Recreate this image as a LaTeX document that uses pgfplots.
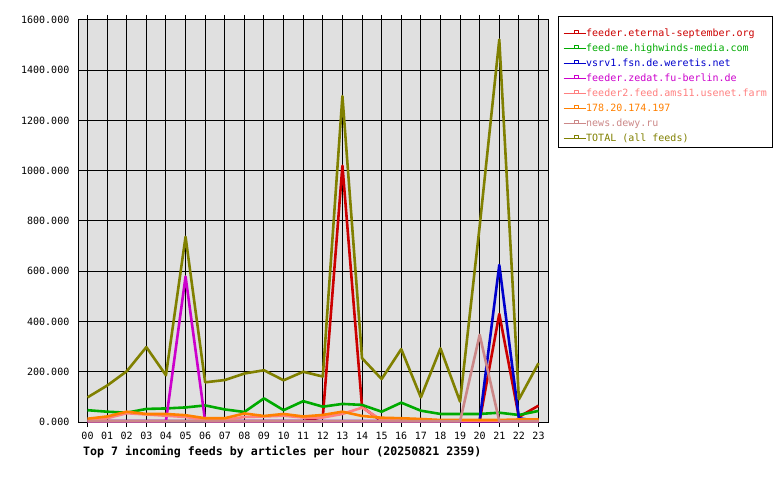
\documentclass[border=0pt]{standalone}
\usepackage{fontspec}
\setmainfont{DejaVu Sans Mono}
\usepackage{pgfplots}
\usepackage{pgfplotstable}
\pgfplotsset{compat=1.18}
\definecolor{cRed}{HTML}{CC0000}
\definecolor{cGreen}{HTML}{00AA00}
\definecolor{cBlue}{HTML}{0000CC}
\definecolor{cMag}{HTML}{CC00CC}
\definecolor{cPink}{HTML}{FF8080}
\definecolor{cOrange}{HTML}{FF8000}
\definecolor{cRosy}{HTML}{CC8888}
\definecolor{cOlive}{HTML}{808000}
\definecolor{bgGray}{HTML}{E0E0E0}
\pgfplotstableread{
h red green blue mag pink orange rosy total
0 3 47 3 3 5 13 3 98
1 3 41 3 3 15 22 3 145
2 3 37 3 3 35 41 3 202
3 3 52 3 3 30 32 3 298
4 3 54 3 3 25 32 3 186
5 3 58 3 579 20 27 3 737
6 3 66 3 3 8 15 3 158
7 3 50 3 3 8 15 3 167
8 3 40 3 3 20 34 3 193
9 3 94 3 3 22 24 3 206
10 3 47 3 3 25 32 3 166
11 3 83 3 3 18 22 3 200
12 20 61 3 3 18 28 3 181
13 1020 72 3 3 32 41 3 1297
14 60 68 3 3 57 24 3 254
15 3 41 3 3 8 17 3 171
16 3 77 3 3 5 15 3 290
17 3 45 3 3 5 12 3 98
18 3 32 3 3 5 8 3 293
19 3 32 3 3 5 8 3 81
20 5 32 5 3 5 8 347 780
21 430 37 625 3 5 8 3 1522
22 20 28 15 3 5 10 3 90
23 65 44 3 3 5 10 3 234
}\data
\begin{document}
\begin{tikzpicture}[x=1pt,y=1pt]
\path[fill=white] (0,0) rectangle (780,480);
\begin{axis}[
  at={(78.5pt,58pt)}, anchor=south west,
  scale only axis, width=470pt, height=402pt,
  xmin=-0.46, xmax=23.51, ymin=0, ymax=1600,
  axis background/.style={fill=bgGray},
  axis line style={black, line width=1pt},
  grid=major, major grid style={black, line width=1pt},
  tick align=outside, major tick length=5pt,
  tick style={black, line width=1pt},
  y tick style={draw=none},
  xtick={0,...,23},
  xticklabels={00,01,02,03,04,05,06,07,08,09,10,11,12,13,14,15,16,17,18,19,20,21,22,23},
  ytick={0,200,...,1600},
  yticklabels={0.000,200.000,400.000,600.000,800.000,1000.000,1200.000,1400.000,1600.000},
  ticklabel style={font=\fontsize{10}{12}\selectfont},
  xticklabel style={inner sep=0pt, yshift=-5pt},
  yticklabel style={inner sep=0pt, xshift=-4pt},
  every axis plot/.append style={line width=2.6pt, mark=none, line join=round},
  legend style={at={(1,1)}, anchor=north west, xshift=9.5pt, yshift=4pt,
    fill=white, inner xsep=5pt, inner ysep=5.5pt,
    font=\fontsize{10}{12}\selectfont, row sep=0pt,
    nodes={inner sep=0pt, text height=15pt, text depth=0pt}},
  legend cell align=left,
  legend image code/.code={\draw[#1, line width=1pt] (0pt,-4.4pt) -- (22pt,-4.4pt);
     \draw[#1, line width=0.8pt] (11pt,-4.4pt) rectangle (15pt,-1.6pt);},
]
\addplot[cRed] table[x=h, y=red] {\data};
\addlegendentry{\textcolor{cRed}{feeder.eternal-september.org}}
\addplot[cGreen] table[x=h, y=green] {\data};
\addlegendentry{\textcolor{cGreen}{feed-me.highwinds-media.com}}
\addplot[cBlue] table[x=h, y=blue] {\data};
\addlegendentry{\textcolor{cBlue}{vsrv1.fsn.de.weretis.net}}
\addplot[cMag] table[x=h, y=mag] {\data};
\addlegendentry{\textcolor{cMag}{feeder.zedat.fu-berlin.de}}
\addplot[cPink] table[x=h, y=pink] {\data};
\addlegendentry{\textcolor{cPink}{feeder2.feed.ams11.usenet.farm}}
\addplot[cOrange] table[x=h, y=orange] {\data};
\addlegendentry{\textcolor{cOrange}{178.20.174.197}}
\addplot[cRosy] table[x=h, y=rosy] {\data};
\addlegendentry{\textcolor{cRosy}{news.dewy.ru}}
\addplot[cOlive] table[x=h, y=total] {\data};
\addlegendentry{\textcolor{cOlive}{TOTAL (all feeds)}}
\end{axis}
\node[anchor=west, inner sep=0pt, font=\fontsize{11.6}{14}\selectfont\bfseries] at (83pt,28pt) {Top 7 incoming feeds by articles per hour (20250821 2359)};
\end{tikzpicture}
\end{document}
